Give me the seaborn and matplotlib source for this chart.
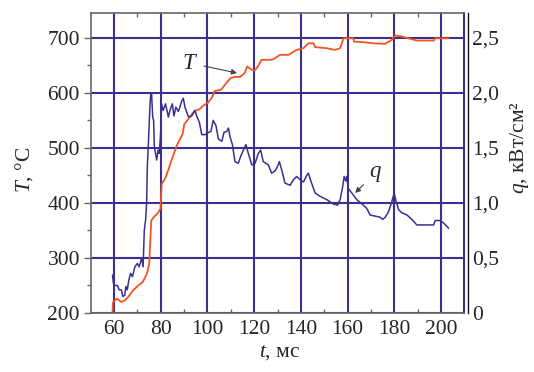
import matplotlib
matplotlib.use("Agg")
import matplotlib.pyplot as plt
from matplotlib.ticker import MultipleLocator, FixedLocator
import seaborn as sns
import pandas as pd

# Temperature curve T(t)
t_T = [59.4, 59.6, 61.3, 63.1, 64.6, 66.1, 68.2, 70.4, 72.3, 74.1, 75.1, 76.0,
       77.0, 78.5, 79.9, 80.5, 82.1, 83.6, 85.0, 87.2, 89.4, 90.1, 92.3, 94.4,
       96.6, 98.0, 100.2, 101.9, 103.1, 106.0, 108.1, 110.0, 111.8, 114.0,
       116.0, 117.0, 119.0, 120.4, 121.9, 123.2, 126.9, 128.2, 131.1, 134.7,
       138.2, 141.1, 143.2, 145.4, 146.1, 151.1, 154.6, 156.8, 158.2, 162.5,
       162.8, 166.8, 171.0, 176.0, 178.9, 180.3, 182.5, 186.0, 189.6, 196.8,
       197.5, 203.2]
T_vals = [200, 220, 226, 220, 223, 229, 241, 250, 256, 271, 289, 368,
          374, 380, 389, 435, 446, 464, 482, 507, 525, 543, 555, 567,
          570, 576, 582, 591, 603, 606, 618, 627, 629, 629,
          636, 648, 642, 641, 650, 660, 660, 661, 669, 669,
          678, 681, 690, 690, 683, 681, 678, 681, 699, 699,
          693, 692, 690, 689, 696, 704, 703, 699, 695, 695,
          699, 699]

# Heat flux curve q(t)
t_q = [59.4, 59.8, 60.4, 61.5, 62.3, 63.2, 63.8, 64.6, 65.1, 65.7, 66.4, 67.1,
       67.9, 69.0, 70.0, 70.8, 71.9, 72.5, 73.0, 73.6, 74.0, 74.3, 74.7, 75.4,
       75.7, 76.1, 76.6, 77.0, 77.3, 77.8, 78.3, 78.9, 79.4, 80.0, 80.4, 81.1,
       82.1, 83.3, 84.0, 85.0, 85.7, 86.5, 87.6, 89.1, 89.7, 90.4, 91.9, 93.3,
       94.7, 95.4, 96.6, 97.6, 99.0, 100.5, 101.5, 102.5, 103.7, 104.7, 106.2,
       107.1, 108.3, 109.0, 109.7, 110.7, 111.8, 113.2, 114.2, 115.4, 116.5,
       117.5, 119.0, 120.4, 121.8, 122.8, 123.9, 126.1, 127.5, 128.9, 130.0,
       130.8, 131.8, 133.2, 135.4, 136.8, 138.2, 139.7, 141.1, 142.5, 143.2,
       144.4, 146.1, 148.2, 151.1, 153.9, 155.7, 156.8, 157.9, 158.5, 159.2,
       159.6, 160.3, 161.8, 163.9, 166.7, 168.2, 169.6, 171.8, 173.9, 175.0,
       176.1, 177.5, 178.9, 179.9, 180.8, 181.8, 183.2, 185.4, 187.5, 189.6,
       193.9, 196.8, 197.5, 199.6, 201.0, 203.2]
q_vals = [0.345, 0.27, 0.25, 0.25, 0.21, 0.21, 0.15, 0.16, 0.24, 0.21, 0.30, 0.36,
          0.33, 0.42, 0.45, 0.42, 0.50, 0.42, 0.75, 0.85, 1.00, 1.33, 1.51, 1.875,
          1.97, 2.00, 1.78, 1.75, 1.51, 1.45, 1.39, 1.48, 1.45, 1.63, 1.90, 1.84,
          1.90, 1.78, 1.84, 1.90, 1.79, 1.87, 1.83, 1.93, 1.95, 1.87, 1.78, 1.79,
          1.84, 1.79, 1.73, 1.62, 1.62, 1.64, 1.65, 1.75, 1.70, 1.58, 1.56,
          1.64, 1.65, 1.68, 1.60, 1.53, 1.375, 1.36, 1.42, 1.48, 1.53,
          1.45, 1.345, 1.36, 1.45, 1.48, 1.375, 1.345, 1.27, 1.29, 1.33,
          1.375, 1.30, 1.18, 1.16, 1.21, 1.24, 1.21, 1.19, 1.25, 1.27,
          1.19, 1.09, 1.06, 1.03, 0.99, 0.98, 1.03, 1.15, 1.24, 1.20,
          1.24, 1.13, 1.09, 1.03, 0.98, 0.95, 0.89, 0.88, 0.87, 0.85,
          0.87, 0.92, 1.01, 1.09, 1.01, 0.94, 0.91, 0.89, 0.85, 0.80,
          0.80, 0.80, 0.84, 0.84, 0.82, 0.77]

x_ticks = [60, 80, 100, 120, 140, 160, 180, 200]
T_ticks = [200, 300, 400, 500, 600, 700]
q_ticks = [0, 0.5, 1.0, 1.5, 2.0, 2.5]
q_tick_labels = ["0", "0,5", "1,0", "1,5", "2,0", "2,5"]

sns.set_style("white")
plt.rcParams["font.family"] = ["Liberation Serif", "DejaVu Serif"]
plt.rcParams["mathtext.fontset"] = "custom"
plt.rcParams["mathtext.it"] = "Liberation Serif:italic"
plt.rcParams["mathtext.rm"] = "Liberation Serif"

GRID = "#3d2f8e"
T_COLOR = "#f2551f"
Q_COLOR = "#3b2f8f"
FS = 15.5

fig = plt.figure(figsize=(5.34, 3.72), dpi=100)
ax = fig.add_axes([91 / 534, 1 - 313 / 372, 373 / 534, 300 / 372])

df_T = pd.DataFrame({"t": t_T, "T": T_vals})
df_q = pd.DataFrame({"t": t_q, "q": q_vals})

ax.set_xlim(50.2, 209.8)
ax.set_ylim(200, 745)
ax.xaxis.set_major_locator(FixedLocator(x_ticks))
ax.yaxis.set_major_locator(FixedLocator(T_ticks))
ax.xaxis.set_minor_locator(MultipleLocator(10))
ax.yaxis.set_minor_locator(MultipleLocator(50))
ax.grid(True, which="major", color=GRID, lw=1.5)
ax.set_axisbelow(True)

sns.lineplot(data=df_T, x="t", y="T", ax=ax, color=T_COLOR, lw=1.3,
             estimator=None, sort=False)

ax.tick_params(axis="y", which="major", direction="out", length=5, width=1,
               color="#666666", labelsize=FS, pad=3)
ax.tick_params(axis="y", which="minor", direction="out", length=3, width=1,
               color="#666666")
ax.tick_params(axis="x", which="major", length=0, labelsize=FS, pad=5)
ax.tick_params(axis="x", which="minor", direction="in", length=3, width=1,
               color="#666666", top=True, bottom=True)
for side in ("left", "top", "bottom"):
    ax.spines[side].set_color("#666666")
    ax.spines[side].set_linewidth(1.2)
ax.spines["right"].set_color(GRID)
ax.spines["right"].set_linewidth(1.5)

ax.set_xlabel(r"$\it{t}$, мс", fontsize=FS)
ax.xaxis.set_label_coords(0.507, -0.13)
ax.xaxis.label.set_va("center")
ax.set_ylabel(r"$\it{T}$, °C", fontsize=FS)
ax.yaxis.set_label_coords(-0.18, 0.477)
ax.yaxis.label.set_va("center")

ax2 = ax.twinx()
ax2.set_ylim(0, 2.725)
sns.lineplot(data=df_q, x="t", y="q", ax=ax2, color=Q_COLOR, lw=1.1,
             estimator=None, sort=False)
ax2.set_yticks(q_ticks)
ax2.set_yticklabels(q_tick_labels)
ax2.tick_params(axis="y", length=0, labelsize=FS, pad=3)
for side in ("left", "top", "bottom"):
    ax2.spines[side].set_visible(False)
ax2.spines["right"].set_position(("outward", 3))
ax2.spines["right"].set_color("#111111")
ax2.spines["right"].set_linewidth(1.0)
ax2.set_xlabel("")
ax2.set_ylabel(r"$\it{q}$, кВт/см²", fontsize=FS)
ax2.yaxis.set_label_coords(1.15, 0.553)
ax2.yaxis.label.set_va("center")

arrow = dict(arrowstyle="-|>", color="#444444", lw=0.8, mutation_scale=8,
             shrinkA=2, shrinkB=0)
ax.annotate(r"$\it{T}$", xy=(112.7, 636), xytext=(92.5, 654), fontsize=FS + 1,
            ha="center", va="center", arrowprops=arrow)
ax2.annotate(r"$\it{q}$", xy=(163.2, 1.09), xytext=(171.8, 1.27), fontsize=FS + 1,
             ha="center", va="center", arrowprops=arrow)

fig.savefig("out.png", dpi=100)
